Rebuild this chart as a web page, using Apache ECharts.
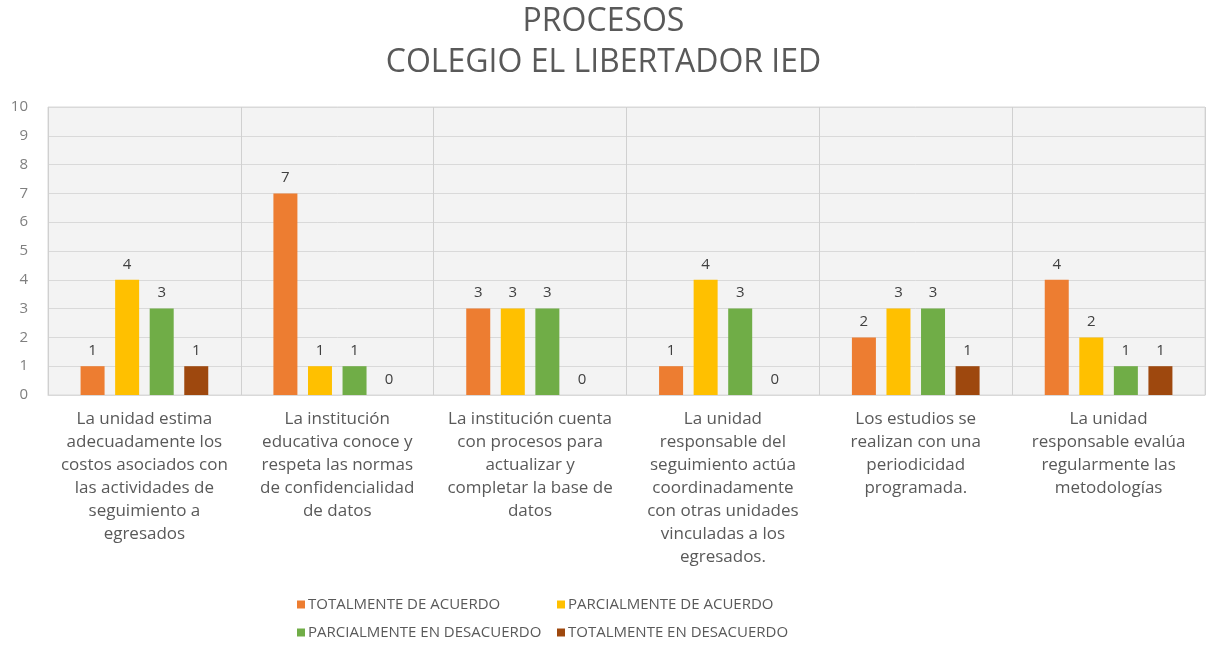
<!DOCTYPE html>
<html>
<head>
<meta charset="utf-8">
<script src="https://cdn.jsdelivr.net/npm/echarts@6/dist/echarts.min.js"></script>
<style>
  html, body { margin: 0; padding: 0; background: #fff; }
  #grafico_procesos { width: 1207px; height: 649px; }
</style>
</head>
<body>
<div id="grafico_procesos"></div>
<script>
// categorias (con los saltos de linea como en el original)
const categorias = [
  'La unidad estima\nadecuadamente los\ncostos asociados con\nlas actividades de\nseguimiento a\negresados',
  'La institución\neducativa conoce y\nrespeta las normas\nde confidencialidad\nde datos',
  'La institución cuenta\ncon procesos para\nactualizar y\ncompletar la base de\ndatos',
  'La unidad\nresponsable del\nseguimiento actúa\ncoordinadamente\ncon otras unidades\nvinculadas a los\negresados.',
  'Los estudios se\nrealizan con una\nperiodicidad\nprogramada.',
  'La unidad\nresponsable evalúa\nregularmente las\nmetodologías'
]

const totalAcuerdo = [1, 7, 3, 1, 2, 4]
const parcialAcuerdo = [4, 1, 3, 4, 3, 2]
const parcialDesacuerdo = [3, 1, 3, 3, 3, 1]
const totalDesacuerdo = [1, 0, 0, 0, 1, 1]

const nombres = [
  'TOTALMENTE DE ACUERDO',
  'PARCIALMENTE DE ACUERDO',
  'PARCIALMENTE EN DESACUERDO',
  'TOTALMENTE EN DESACUERDO'
]
const colores = ['#ED7D31', '#FFC000', '#70AD47', '#9E480E']
const ticksY = ['0', '1', '2', '3', '4', '5', '6', '7', '8', '9', '10']

const fuente = '"Open Sans", "Noto Sans", sans-serif'

function serie(nombre, datos, color) {
  return {
    name: nombre,
    type: 'bar',
    data: datos,
    barWidth: 24,
    barGap: '44%',
    itemStyle: { color: color },
    label: {
      show: true,
      position: 'top',
      distance: 8,
      color: '#404040',
      fontSize: 15,
      fontFamily: fuente
    }
  }
}

// una leyenda por item para dejar las columnas alineadas como en el original
function leyenda(nombre, left, top) {
  return {
    data: [nombre],
    left: left,
    top: top,
    icon: 'rect',
    itemWidth: 8,
    itemHeight: 8,
    padding: 0,
    textStyle: { color: '#595959', fontSize: 15, fontFamily: fuente, padding: [0, 0, 0, -2] }
  }
}

const chart = echarts.init(document.getElementById('grafico_procesos'))

const option = {
  animation: false,
  textStyle: { fontFamily: fuente },
  title: [
    {
      text: 'PROCESOS',
      left: 'center',
      top: 1,
      textStyle: { color: '#595959', fontSize: 32, fontWeight: 'normal', fontFamily: fuente }
    },
    {
      text: 'COLEGIO EL LIBERTADOR IED',
      left: 'center',
      top: 42,
      textStyle: { color: '#595959', fontSize: 32, fontWeight: 'normal', fontFamily: fuente }
    }
  ],
  legend: [
    leyenda(nombres[0], 297, 597),
    leyenda(nombres[1], 557, 597),
    leyenda(nombres[2], 297, 625),
    leyenda(nombres[3], 557, 625)
  ],
  grid: {
    left: 48,
    right: 2,
    top: 107,
    bottom: 254,
    show: true,
    backgroundColor: '#f3f3f3',
    borderColor: '#d9d9d9',
    borderWidth: 1
  },
  xAxis: {
    type: 'category',
    data: categorias,
    axisTick: { show: false },
    axisLine: { lineStyle: { color: '#d9d9d9' } },
    splitLine: { show: true, lineStyle: { color: '#d0d0d0', width: 1 } },
    axisLabel: {
      interval: 0,
      margin: 13,
      color: '#595959',
      fontSize: 17,
      lineHeight: 23,
      fontFamily: fuente
    }
  },
  yAxis: {
    type: 'value',
    min: 0,
    max: 10,
    interval: 1,
    axisLine: { show: false },
    axisTick: { show: false },
    splitLine: { lineStyle: { color: '#d9d9d9' } },
    axisLabel: {
      margin: 20,
      color: '#7f7f7f',
      fontSize: 15,
      fontFamily: fuente,
      formatter: function (v) { return ticksY[v] }
    }
  },
  series: [
    serie(nombres[0], totalAcuerdo, colores[0]),
    serie(nombres[1], parcialAcuerdo, colores[1]),
    serie(nombres[2], parcialDesacuerdo, colores[2]),
    serie(nombres[3], totalDesacuerdo, colores[3])
  ]
}

chart.setOption(option)
</script>
</body>
</html>
